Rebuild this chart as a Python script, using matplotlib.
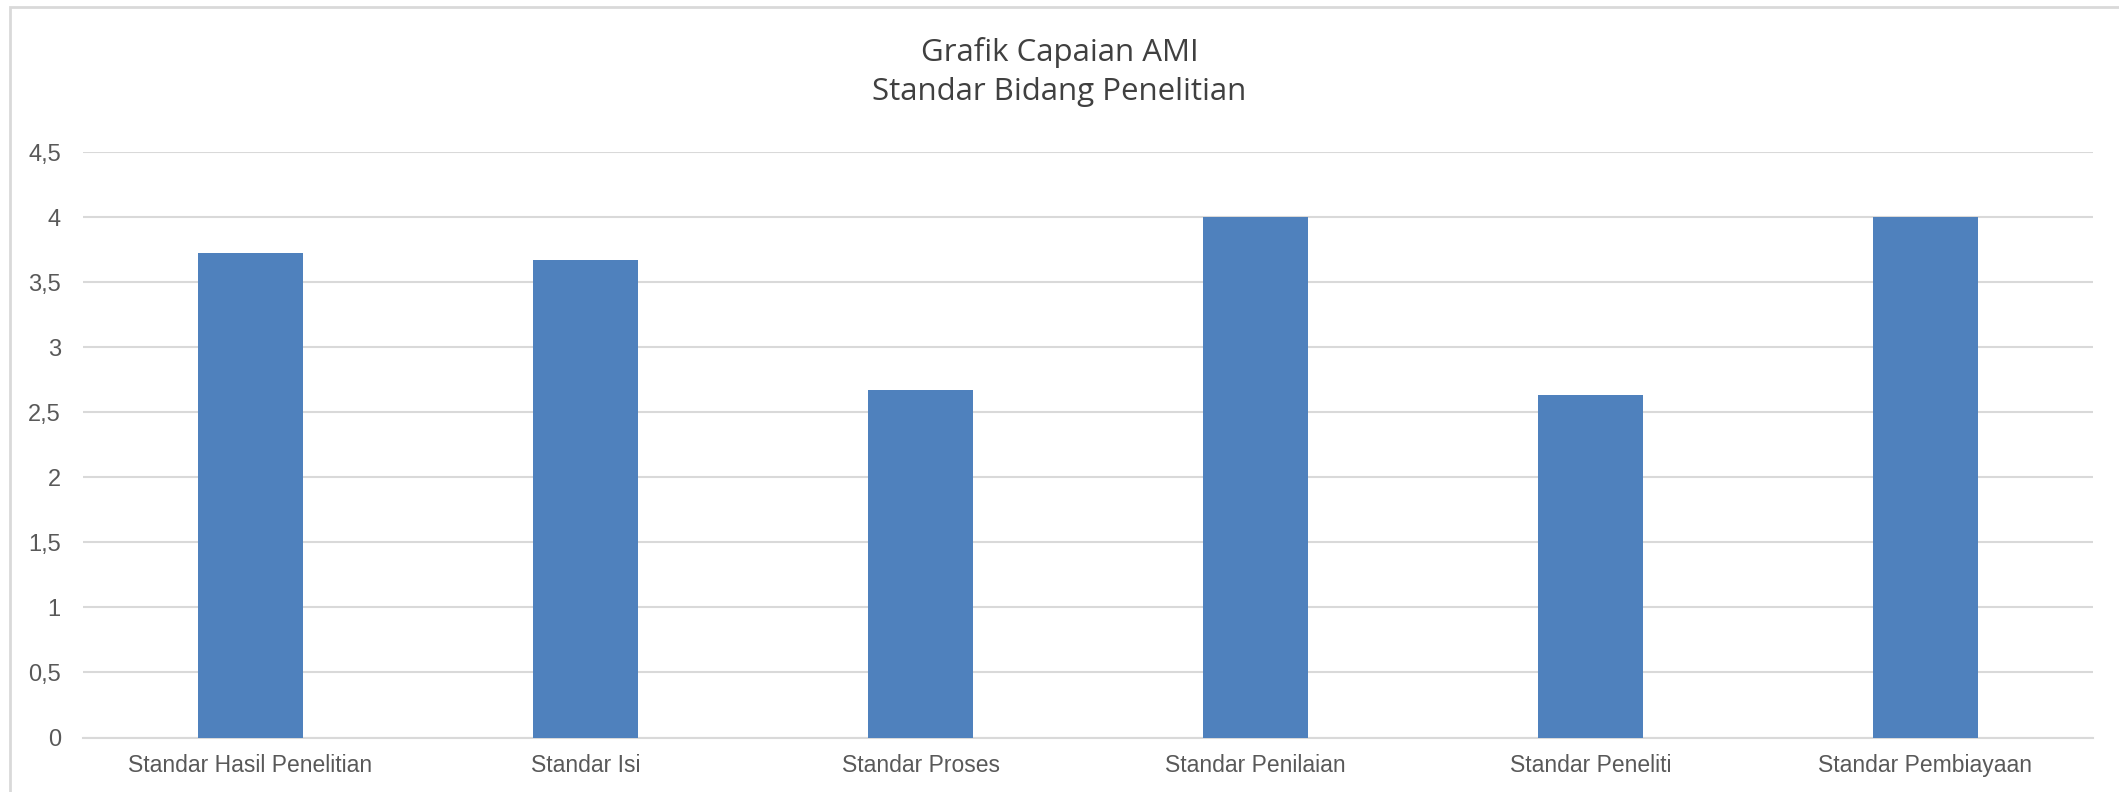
import matplotlib
matplotlib.use("Agg")
import matplotlib.pyplot as plt
from matplotlib.patches import Rectangle
from matplotlib.ticker import FuncFormatter

categories = ["Standar Hasil Penelitian", "Standar Isi", "Standar Proses",
              "Standar Penilaian", "Standar Peneliti", "Standar Pembiayaan"]
values = [3.72, 3.67, 2.67, 4.0, 2.63, 4.0]
yticks = [0, 0.5, 1, 1.5, 2, 2.5, 3, 3.5, 4, 4.5]

W, H = 2119, 792
fig = plt.figure(figsize=(W / 100, H / 100), dpi=100)
ax = fig.add_axes([83 / W, 1 - 737.5 / H, (2093 - 83) / W, (737.5 - 152) / H])

# outer chart frame (right/bottom edges are cut off in the original)
fig.patches.append(Rectangle((10 / W, -0.1), 1.2, 1 - 7 / H + 0.1,
                             transform=fig.transFigure, fill=False,
                             edgecolor="#D9D9D9", linewidth=2))

x = range(len(categories))
ax.bar(x, values, width=0.313, color="#4F81BD", zorder=3)

ax.set_xlim(-0.5, len(categories) - 0.5)
ax.set_ylim(0, 4.5)
ax.set_yticks(yticks)
ax.yaxis.set_major_formatter(FuncFormatter(lambda v, p: ("%g" % v).replace(".", ",")))
ax.set_xticks(list(x))
ax.set_xticklabels(categories, fontsize=16.5, color="#595959", family="Liberation Sans")
ax.tick_params(axis="y", labelsize=17, labelcolor="#595959", length=0, pad=16)
ax.tick_params(axis="x", length=0, pad=12)
for lbl in ax.get_yticklabels():
    lbl.set_family("Liberation Sans")

ax.grid(axis="y", color="#D9D9D9", linewidth=1.5, zorder=0)
for s in ["top", "right", "left"]:
    ax.spines[s].set_visible(False)
ax.spines["bottom"].set_color("#D9D9D9")
ax.spines["bottom"].set_linewidth(1.5)

fig.text(0.5, 1 - 52 / H, "Grafik Capaian AMI", ha="center", va="center",
         fontsize=22.5, color="#404040", family="Open Sans")
fig.text(0.5, 1 - 92 / H, "Standar Bidang Penelitian", ha="center", va="center",
         fontsize=22.5, color="#404040", family="Open Sans")

fig.savefig("out.png", dpi=100)
